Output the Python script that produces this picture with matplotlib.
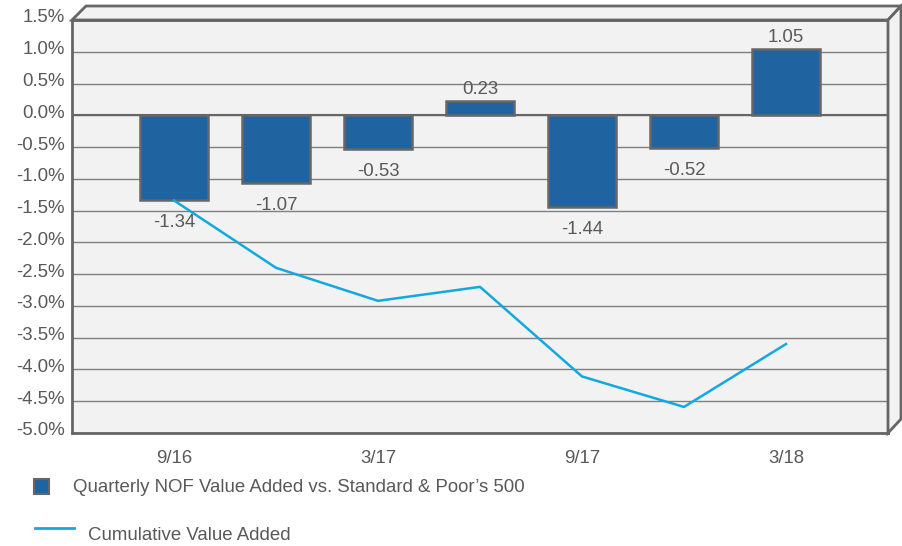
import numpy as np
import matplotlib
matplotlib.use('Agg')
import matplotlib.pyplot as plt
from matplotlib.patches import Polygon
from matplotlib.transforms import ScaledTranslation

plt.rcParams['font.family'] = ['Liberation Sans', 'DejaVu Sans']

# data
quarters = ['9/16', '12/16', '3/17', '6/17', '9/17', '12/17', '3/18']
tick_labels = ['9/16', '', '3/17', '', '9/17', '', '3/18']
quarterly = [-1.34, -1.07, -0.53, 0.23, -1.44, -0.52, 1.05]
cumulative = [-1.34, -2.40, -2.92, -2.70, -4.11, -4.59, -3.60]

W, H = 903, 546
txt = '#595959'
frame = '#666666'
bg = '#f2f2f2'
fs = 13.4

fig = plt.figure(figsize=(W / 100, H / 100), dpi=100)

def fx(x, y):
    return (x / W, 1 - y / H)

# 3d-ish box: top and right strips behind the front plane
top_strip = Polygon([fx(72, 20), fx(86, 6), fx(901, 6), fx(888, 20)], closed=True,
                    transform=fig.transFigure, facecolor=bg, edgecolor=frame, lw=2, zorder=0)
right_strip = Polygon([fx(888, 20), fx(901, 6), fx(901, 419), fx(888, 433)], closed=True,
                      transform=fig.transFigure, facecolor=bg, edgecolor=frame, lw=2, zorder=0)
fig.patches.extend([top_strip, right_strip])

ax = fig.add_axes([72 / W, (H - 433) / H, 816 / W, 413 / H])
ax.set_facecolor(bg)

x = np.arange(len(quarters))
ax.bar(x, quarterly, width=0.67, color='#1f64a0', edgecolor=frame, linewidth=1.8, zorder=3)
ax.plot(x, cumulative, color='#12a8e0', lw=1.8, zorder=6)

for xi, v in zip(x, quarterly):
    dy = 8 if v >= 0 else -16
    ax.annotate(f'{v:.2f}', (xi, v), xytext=(0, dy), textcoords='offset points',
                ha='center', va='center', fontsize=fs, color=txt, zorder=5)

ax.set_xlim(-1, 7)
ax.set_ylim(-5.0, 1.5)
yt = np.arange(-5.0, 1.51, 0.5)
ax.set_yticks(yt)
ax.set_yticklabels([f'{v:.1f}%' for v in yt])
ax.set_xticks(x)
ax.set_xticklabels(tick_labels)
ax.tick_params(axis='both', length=0, labelsize=fs, colors=txt)
ax.tick_params(axis='y', pad=5)
ax.tick_params(axis='x', pad=12)
shift = ScaledTranslation(0, 4 / 100, fig.dpi_scale_trans)
for lab in ax.get_yticklabels():
    lab.set_transform(lab.get_transform() + shift)
ax.grid(axis='y', color='#7f7f7f', lw=1, zorder=1)
ax.axhline(0, color=frame, lw=1.5, zorder=2)
for s in ax.spines.values():
    s.set_color(frame)
    s.set_linewidth(2)

# legend
fig.patches.append(Polygon([fx(34, 479), fx(49, 479), fx(49, 494), fx(34, 494)], closed=True,
                           transform=fig.transFigure, facecolor='#1f64a0', edgecolor=frame, lw=1.5))
fig.text(73 / W, 1 - 488 / H, "Quarterly NOF Value Added vs. Standard & Poor\u2019s 500",
         fontsize=fs, color=txt, va='center')
fig.add_artist(plt.Line2D([35 / W, 74 / W], [1 - 528 / H, 1 - 528 / H], color='#12a8e0', lw=2))
fig.text(88 / W, 1 - 535 / H, 'Cumulative Value Added', fontsize=fs, color=txt, va='center')

fig.savefig('out.png', dpi=100)
